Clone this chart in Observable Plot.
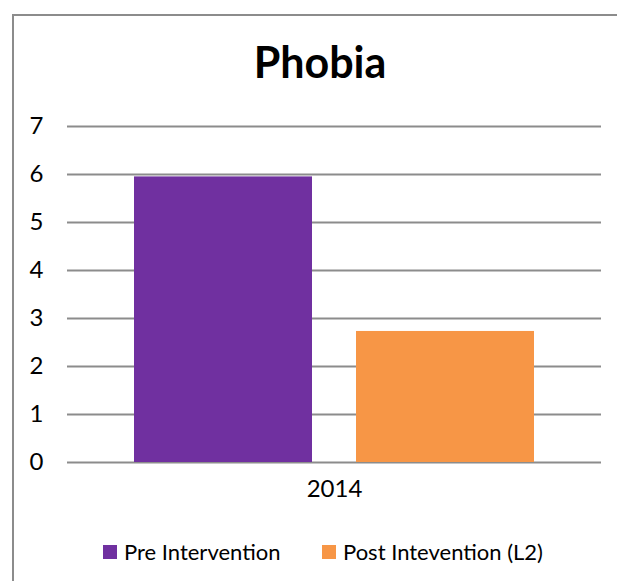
<!DOCTYPE html>
<html>
<head>
<meta charset="utf-8">
<script src="https://cdn.jsdelivr.net/npm/d3@7"></script>
<script src="https://cdn.jsdelivr.net/npm/@observablehq/plot@0.6"></script>
<style>
  html, body { margin: 0; padding: 0; background: #fff; }
  body { width: 617px; height: 581px; position: relative; overflow: hidden; font-family: Lato, "Open Sans", sans-serif; }
  #frame { position: absolute; left: 12px; top: 14px; width: 620px; height: 600px; border-left: 2px solid #8c8c8c; border-top: 2px solid #8c8c8c; box-sizing: border-box; }
  #chart { position: absolute; left: 0; top: 0; }
  #title { position: absolute; left: 0; width: 640px; top: 37px; line-height: 50px; text-align: center; font-weight: bold; font-size: 43px; color: #000; }
  #legend { position: absolute; top: 540px; left: 0; width: 617px; font-size: 22px; color: #000; }
  .item { position: absolute; display: flex; align-items: center; white-space: nowrap; line-height: 24px; }
  .swatch { width: 14px; height: 14px; margin-right: 7px; }
</style>
</head>
<body>
<div id="frame"></div>
<div id="chart"></div>
<div id="title">Phobia</div>
<div id="legend"></div>
<script>
// Phobia scores for 2014, before and after intervention
const years = ["2014"];
const seriesNames = ["Pre Intervention", "Post Intevention (L2)"];
const seriesValues = [5.95, 2.73];
const seriesColors = ["#7030a0", "#f79646"];
const yTicks = [0, 1, 2, 3, 4, 5, 6, 7];

const rows = seriesNames.map((name, i) => ({ year: years[0], series: name, value: seriesValues[i] }));

const chart = Plot.plot({
  width: 617,
  height: 581,
  marginLeft: 67,
  marginRight: 16,
  marginTop: 126,
  marginBottom: 119,
  style: { fontFamily: "Lato, 'Open Sans', sans-serif", fontSize: "24px", color: "#000", background: "transparent" },
  x: { domain: seriesNames, paddingInner: 0.198, paddingOuter: 0.3015, axis: null },
  y: { domain: [0, 7], ticks: yTicks, label: null },
  color: { domain: seriesNames, range: seriesColors },
  marks: [
    Plot.gridY(yTicks, { stroke: "#8c8c8c", strokeOpacity: 1, strokeWidth: 2 }),
    Plot.axisY(yTicks, { tickSize: 0, tickPadding: 0, dx: -31, textAnchor: "middle", fontSize: 24, label: null, tickFormat: d3.format("d") }),
    Plot.barY(rows, { x: "series", y: "value", fill: "series" }),
    // category label under the group of bars
    Plot.text(years, { text: d => d, frameAnchor: "bottom", dy: 34, fontSize: 24, fill: "#000" })
  ]
});

document.getElementById("chart").appendChild(chart);

// legend
const legend = document.getElementById("legend");
const legendX = [103, 322];
seriesNames.forEach((name, i) => {
  const item = document.createElement("div");
  item.className = "item";
  item.style.left = legendX[i] + "px";
  const sw = document.createElement("div");
  sw.className = "swatch";
  sw.style.background = seriesColors[i];
  const label = document.createElement("span");
  label.textContent = name;
  item.appendChild(sw);
  item.appendChild(label);
  legend.appendChild(item);
});
</script>
</body>
</html>
